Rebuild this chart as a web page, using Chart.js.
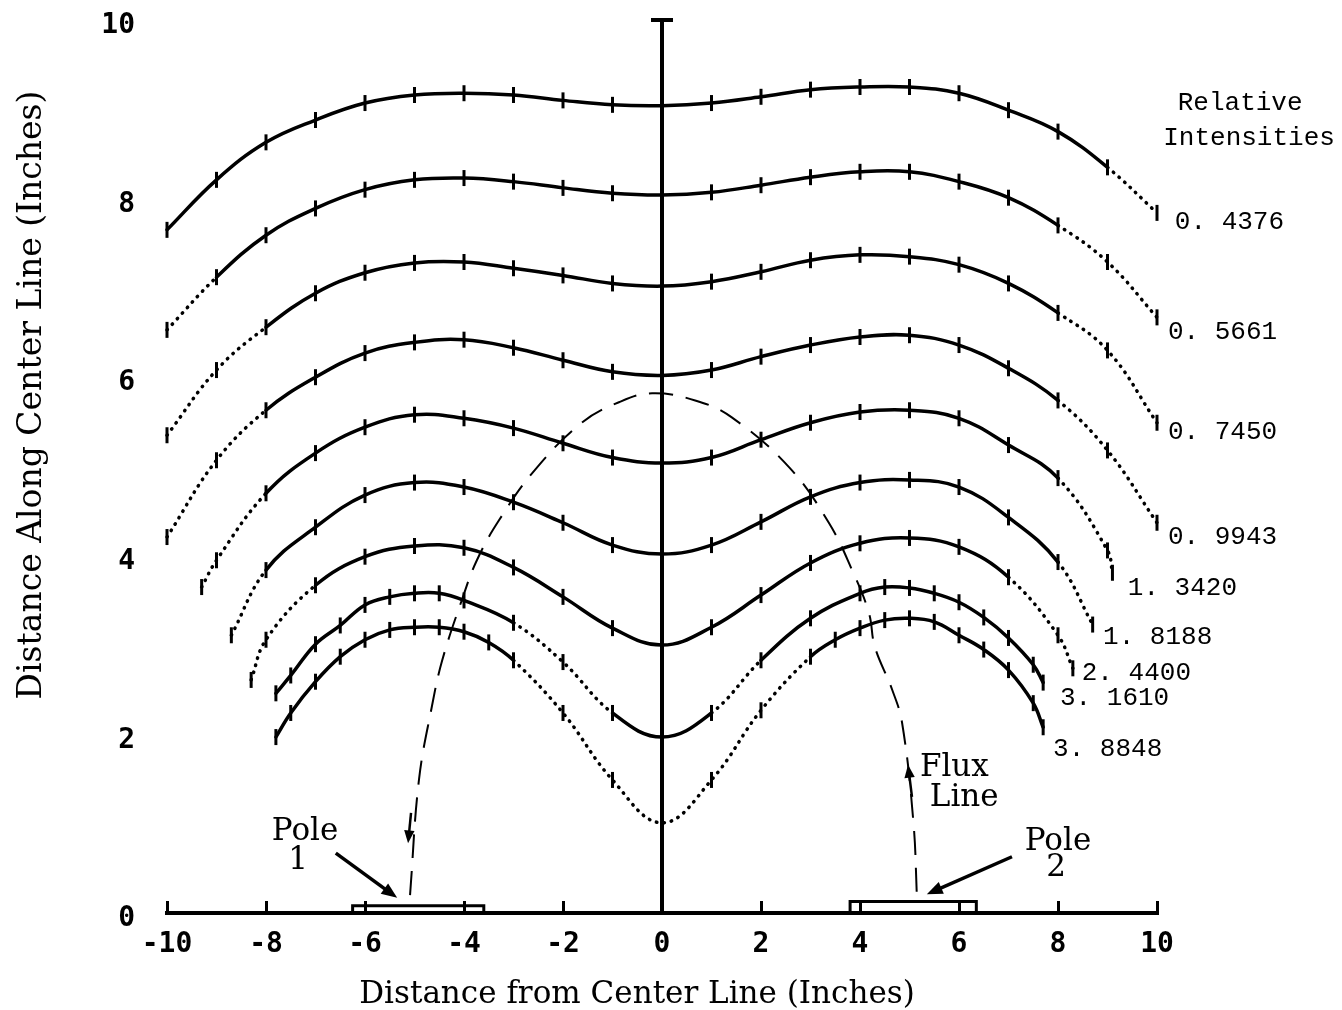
<!DOCTYPE html>
<html>
<head>
<meta charset="utf-8">
<script src="https://cdn.jsdelivr.net/npm/chart.js@4.4.1/dist/chart.umd.min.js"></script>
<style>
  body { margin: 0; background: #fff; }
  #fieldChart { display: block; }
</style>
</head>
<body>
<canvas id="fieldChart" width="1342" height="1010"></canvas>
<script>
// measurement positions (inches from center line)
const xInt = [-10, -9, -8, -7, -6, -5, -4, -3, -2, -1, 0, 1, 2, 3, 4, 5, 6, 7, 8, 9, 10];
const x13420 = [-9.3, -9, -8, -7, -6, -5, -4, -3, -2, -1, 0, 1, 2, 3, 4, 5, 6, 7, 8, 9, 9.1];
const x18188 = [-8.7, -8, -7, -6, -5, -4, -3, -2, -1, 0, 1, 2, 3, 4, 5, 6, 7, 8, 8.7];
const x24400 = [-8.3, -8, -7, -6, -5, -4, -3, -2, -1, 0, 1, 2, 3, 4, 5, 6, 7, 8, 8.3];
const x31610 = [-7.8, -7.5, -7, -6.5, -6, -5.5, -5, -4.5, -4, -3, -2, -1, 0, 1, 2, 3, 4, 4.5, 5, 5.5, 6, 6.5, 7, 7.5, 7.7];
const x38848 = [-7.8, -7.5, -7, -6.5, -6, -5.5, -5, -4.5, -4, -3.5, -3, -2, -1, 0, 1, 2, 3, 3.5, 4, 4.5, 5, 5.5, 6, 6.5, 7, 7.5, 7.7];

// distance along center line for each relative intensity
const y04376 = [7.65, 8.21, 8.63, 8.88, 9.07, 9.16, 9.18, 9.16, 9.10, 9.05, 9.04, 9.07, 9.14, 9.22, 9.25, 9.25, 9.18, 8.99, 8.75, 8.35, 7.84];
const y05661 = [6.53, 7.12, 7.59, 7.89, 8.10, 8.21, 8.23, 8.19, 8.12, 8.06, 8.04, 8.07, 8.15, 8.24, 8.30, 8.30, 8.19, 8.01, 7.70, 7.29, 6.67];
const y07450 = [5.35, 6.08, 6.56, 6.94, 7.17, 7.28, 7.29, 7.22, 7.14, 7.05, 7.02, 7.07, 7.18, 7.31, 7.37, 7.35, 7.26, 7.05, 6.72, 6.30, 5.49];
const y09943 = [4.21, 5.07, 5.63, 6.00, 6.27, 6.39, 6.42, 6.33, 6.19, 6.06, 6.02, 6.08, 6.23, 6.36, 6.45, 6.47, 6.36, 6.10, 5.74, 5.18, 4.37];
const y13420 = [3.65, 3.95, 4.70, 5.15, 5.44, 5.58, 5.54, 5.43, 5.26, 5.10, 5.04, 5.10, 5.30, 5.49, 5.61, 5.63, 5.54, 5.24, 4.87, 4.06, 3.81];
const y18188 = [3.11, 3.84, 4.32, 4.68, 4.82, 4.77, 4.60, 4.37, 4.12, 4.02, 4.12, 4.38, 4.66, 4.82, 4.85, 4.77, 4.43, 3.93, 3.23];
const y24400 = [2.61, 3.06, 3.67, 3.99, 4.11, 4.09, 3.87, 3.54, 3.19, 3.00, 3.20, 3.56, 3.92, 4.14, 4.20, 4.10, 3.76, 3.11, 2.74];
const y31610 = [2.46, 2.66, 3.01, 3.22, 3.45, 3.54, 3.58, 3.58, 3.50, 3.25, 2.81, 2.24, 1.97, 2.24, 2.83, 3.30, 3.58, 3.65, 3.64, 3.58, 3.48, 3.31, 3.08, 2.78, 2.58];
const y38848 = [1.97, 2.24, 2.59, 2.87, 3.06, 3.17, 3.20, 3.20, 3.15, 3.03, 2.83, 2.24, 1.49, 1.01, 1.49, 2.27, 2.87, 3.06, 3.19, 3.28, 3.30, 3.26, 3.11, 2.95, 2.72, 2.35, 2.08];

// stretches of each curve drawn dotted (extrapolated)
const dot04376 = [[9, 10]];
const dot05661 = [[-10, -9], [8, 10]];
const dot07450 = [[-10, -8], [8, 10]];
const dot09943 = [[-10, -8], [8, 10]];
const dot13420 = [[-10, -8], [8, 10]];
const dot18188 = [[-10, -8], [8, 10]];
const dot24400 = [[-10, -7], [7, 10]];
const dot31610 = [[-3, -1], [1, 2]];
const dot38848 = [[-3, 3]];

const intensityLabels = ['0. 4376', '0. 5661', '0. 7450', '0. 9943', '1. 3420', '1. 8188', '2. 4400', '3. 1610', '3. 8848'];

// dashed flux line from pole 1 up and over to pole 2
const fluxX = [-5.09, -4.91, -4.65, -4.44, -4.04, -3.74, -3.29, -2.57, -1.62, -0.87, -0.2, 0.67, 1.41, 2.57, 3.37, 3.84, 4.18, 4.30, 4.65, 4.85, 5.08, 5.15];
const fluxY = [0.20, 1.49, 2.31, 2.83, 3.51, 3.95, 4.40, 4.96, 5.49, 5.72, 5.82, 5.74, 5.55, 4.99, 4.37, 3.84, 3.36, 2.98, 2.50, 2.13, 1.01, 0.18];

// pole pieces on the base line
const pole1X = [-6.25, -6.25, -3.6, -3.6];
const pole1Y = [0, 0.08, 0.08, 0];
const pole2X = [3.8, 3.8, 6.35, 6.35];
const pole2Y = [0, 0.13, 0.13, 0];

const xTicks = { min: -10, max: 10, step: 2 };
const yTicks = { min: 0, max: 10, step: 2 };

const toPoints = (xs, ys) => xs.map((x, i) => ({ x, y: ys[i] }));

function dottedIn(spans) {
  return ctx => {
    const mid = (ctx.p0.parsed.x + ctx.p1.parsed.x) / 2;
    return spans.some(([lo, hi]) => mid > lo && mid < hi) ? [0.5, 7] : undefined;
  };
}

const curves = [
  [intensityLabels[0], xInt, y04376, dot04376],
  [intensityLabels[1], xInt, y05661, dot05661],
  [intensityLabels[2], xInt, y07450, dot07450],
  [intensityLabels[3], xInt, y09943, dot09943],
  [intensityLabels[4], x13420, y13420, dot13420],
  [intensityLabels[5], x18188, y18188, dot18188],
  [intensityLabels[6], x24400, y24400, dot24400],
  [intensityLabels[7], x31610, y31610, dot31610],
  [intensityLabels[8], x38848, y38848, dot38848]
];

const curveSets = curves.map(([label, xs, ys, dots]) => ({
  label: label,
  data: toPoints(xs, ys),
  borderColor: '#000',
  borderWidth: 3.5,
  borderCapStyle: 'round',
  tension: 0.4,
  pointStyle: 'line',
  rotation: 90,
  pointRadius: 8,
  pointBorderWidth: 3,
  pointBorderColor: '#000',
  segment: { borderDash: dottedIn(dots) },
  clip: false
}));

const frameSets = [
  {
    label: 'center line',
    data: [{ x: 0, y: 0 }, { x: 0, y: 10 }],
    borderColor: '#000',
    borderWidth: 4,
    pointStyle: 'line',
    pointRadius: [0, 11],
    pointBorderWidth: 4,
    pointBorderColor: '#000',
    clip: false
  },
  {
    label: 'flux line',
    data: toPoints(fluxX, fluxY),
    borderColor: '#000',
    borderWidth: 2,
    borderDash: [24, 13],
    tension: 0.4,
    pointRadius: 0,
    clip: false
  },
  {
    label: 'pole 1',
    data: toPoints(pole1X, pole1Y),
    borderColor: '#000',
    borderWidth: 3,
    pointRadius: 0,
    clip: false
  },
  {
    label: 'pole 2',
    data: toPoints(pole2X, pole2Y),
    borderColor: '#000',
    borderWidth: 3,
    pointRadius: 0,
    clip: false
  }
];

// text and arrows, placed in data units through the chart's scales
const annotate = {
  id: 'annotate',
  afterDraw(chart) {
    const { ctx, scales: { x, y } } = chart;
    const px = v => x.getPixelForValue(v);
    const py = v => y.getPixelForValue(v);

    const arrow = (x0, y0, x1, y1, width, head) => {
      const a = Math.atan2(py(y1) - py(y0), px(x1) - px(x0));
      const ex = px(x1), ey = py(y1);
      ctx.lineWidth = width;
      ctx.beginPath();
      ctx.moveTo(px(x0), py(y0));
      ctx.lineTo(ex - Math.cos(a) * head * 0.6, ey - Math.sin(a) * head * 0.6);
      ctx.stroke();
      ctx.beginPath();
      ctx.moveTo(ex, ey);
      ctx.lineTo(ex - head * Math.cos(a - 0.38), ey - head * Math.sin(a - 0.38));
      ctx.lineTo(ex - head * Math.cos(a + 0.38), ey - head * Math.sin(a + 0.38));
      ctx.closePath();
      ctx.fill();
    };

    ctx.save();
    ctx.fillStyle = '#000';
    ctx.strokeStyle = '#000';

    // curve labels on the right
    const labelX = [10.36, 10.22, 10.22, 10.22, 9.41, 8.91, 8.48, 8.04, 7.90];
    const labelY = [7.74, 6.50, 5.39, 4.21, 3.64, 3.09, 2.69, 2.41, 1.83];
    ctx.font = '26px "Liberation Mono"';
    ctx.textBaseline = 'middle';
    ctx.textAlign = 'left';
    intensityLabels.forEach((t, i) => ctx.fillText(t, px(labelX[i]), py(labelY[i])));

    ctx.textAlign = 'center';
    ctx.fillText('Relative', px(11.68), py(9.07));
    ctx.fillText('Intensities', px(11.86), py(8.68));

    // pole and flux labels
    ctx.font = '31px "DejaVu Serif"';
    ctx.fillText('Pole', px(-7.21), py(0.91));
    ctx.fillText('1', px(-7.35), py(0.58));
    ctx.fillText('Pole', px(8.0), py(0.80));
    ctx.fillText('2', px(7.96), py(0.50));
    ctx.textAlign = 'left';
    ctx.fillText('Flux', px(5.21), py(1.62));
    ctx.fillText('Line', px(5.41), py(1.29));

    // arrows
    arrow(-6.59, 0.67, -5.35, 0.17, 3.5, 17);
    arrow(7.07, 0.63, 5.35, 0.21, 3.5, 17);
    arrow(-5.07, 1.12, -5.13, 0.78, 2.5, 14);
    arrow(5.05, 1.30, 4.97, 1.66, 2.5, 14);

    // axis titles
    ctx.textAlign = 'center';
    ctx.font = '31px "DejaVu Serif"';
    ctx.fillText('Distance from Center Line (Inches)', 637, 995);
    ctx.font = '33px "DejaVu Serif"';
    ctx.translate(32, 395);
    ctx.rotate(-Math.PI / 2);
    ctx.fillText('Distance Along Center Line (Inches)', 0, 0);
    ctx.restore();
  }
};

const tickFont = { family: 'DejaVu Sans Mono', size: 28, weight: 'bold' };

new Chart(document.getElementById('fieldChart'), {
  type: 'line',
  data: { datasets: [...frameSets, ...curveSets] },
  plugins: [annotate],
  options: {
    responsive: false,
    animation: false,
    events: [],
    layout: { padding: { left: 0, top: 20, right: 185, bottom: 0 } },
    plugins: {
      legend: { display: false },
      tooltip: { enabled: false }
    },
    scales: {
      x: {
        type: 'linear',
        min: xTicks.min,
        max: xTicks.max,
        afterFit: scale => {
          scale.height = 97;
          scale.paddingLeft = 0;
          scale.paddingRight = 0;
        },
        border: { display: true, color: '#000', width: 4 },
        grid: {
          display: true,
          drawOnChartArea: false,
          drawTicks: true,
          tickLength: -12,
          lineWidth: 3,
          color: '#000'
        },
        ticks: {
          stepSize: xTicks.step,
          autoSkip: false,
          maxRotation: 0,
          padding: 27,
          color: '#000',
          font: tickFont
        }
      },
      y: {
        type: 'linear',
        min: yTicks.min,
        max: yTicks.max,
        afterFit: scale => {
          scale.width = 167;
          scale.paddingTop = 0;
          scale.paddingBottom = 0;
        },
        border: { display: false },
        grid: { display: false, drawTicks: false },
        ticks: {
          stepSize: yTicks.step,
          padding: 32,
          labelOffset: 6,
          color: '#000',
          font: tickFont
        }
      }
    }
  }
});
</script>
</body>
</html>
